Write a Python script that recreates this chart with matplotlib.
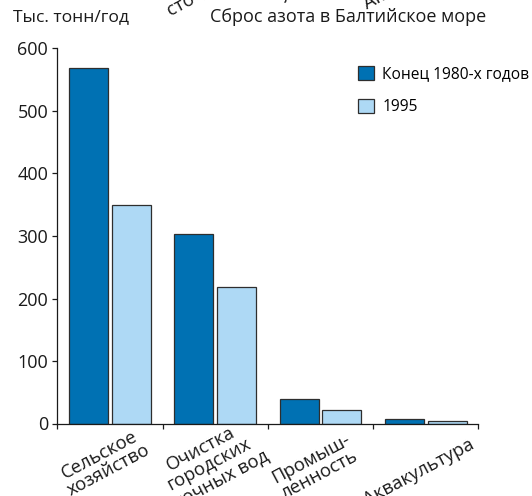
import matplotlib
matplotlib.use("Agg")
import matplotlib.pyplot as plt
import numpy as np

# Nitrogen discharge into the Baltic Sea, thousand tonnes per year
categories = ["Сельское\nхозяйство", "Очистка\nгородских\nсточных вод",
              "Промыш-\nленность", "Аквакультура"]
late_1980s = [569, 303, 39, 7]
year_1995 = [349, 218, 21, 4]
series_labels = ["Конец 1980-х годов", "1995"]
y_ticks = [0, 100, 200, 300, 400, 500, 600]

# offsets (in pixels) of each rotated category label's centre from its slot centre
label_offsets_px = [(-6, -39), (-6, -41), (-5, -43), (-7, -49)]

plt.rcParams['font.family'] = ['Open Sans', 'DejaVu Sans']

W, H = 532, 496
DPI = 100
PT = 72 / DPI
fig = plt.figure(figsize=(W / DPI, H / DPI), dpi=DPI)
ax = fig.add_axes([57.3 / W, (H - 423.5) / H, 421 / W, 375 / H])

dark = '#0071b3'
light = '#aed9f5'
edge = '#2e2e2e'
ink = '#1a1a1a'
x = np.arange(len(categories))
b1 = ax.bar(x + 0.112, late_1980s, width=0.372, align='edge', color=dark,
            edgecolor=edge, linewidth=0.9, label=series_labels[0])
b2 = ax.bar(x + 0.518, year_1995, width=0.372, align='edge', color=light,
            edgecolor=edge, linewidth=0.9, label=series_labels[1])

ax.set_xlim(0, len(categories))
ax.set_ylim(0, 600)
ax.set_xticks(np.arange(len(categories) + 1))
ax.set_xticklabels([])
ax.set_yticks(y_ticks)
ax.tick_params(axis='y', direction='out', length=3.6, width=0.9, pad=3,
               labelsize=13, colors=ink)
ax.tick_params(axis='x', direction='out', length=3.6, width=0.9, colors=ink)
for side in ('top', 'right'):
    ax.spines[side].set_visible(False)
for side in ('left', 'bottom'):
    ax.spines[side].set_linewidth(0.9)
    ax.spines[side].set_color(ink)

# Rotated category labels; the copy shifted by one figure height shows
# the parts that run past the lower edge at the top of the canvas.
shift_pt = H * PT
for i, name in enumerate(categories):
    dx, dy = label_offsets_px[i]
    for extra in (0, shift_pt):
        ax.annotate(name, xy=(i + 0.5, 0), xycoords='data',
                    xytext=(dx * PT, dy * PT + extra), textcoords='offset points',
                    rotation=28, ha='center', va='center',
                    rotation_mode='anchor', multialignment='center',
                    linespacing=1.0, fontsize=13.3, color=ink,
                    annotation_clip=False)

fig.text(13 / W, 1 - 17 / H, "Тыс. тонн/год", ha='left', va='center',
         fontsize=12.6, color=ink)
fig.text(210 / W, 1 - 17 / H, "Сброс азота в Балтийское море", ha='left',
         va='center', fontsize=13, color=ink)

ax.legend(handles=[b1, b2], loc='upper left',
          bbox_to_anchor=(358 / W, 1 - 66 / H), bbox_transform=fig.transFigure,
          frameon=False, fontsize=11.2, handlelength=1.0, handleheight=1.0,
          handletextpad=0.55, labelspacing=1.05, borderpad=0, borderaxespad=0)

fig.savefig("out.png", dpi=DPI)
